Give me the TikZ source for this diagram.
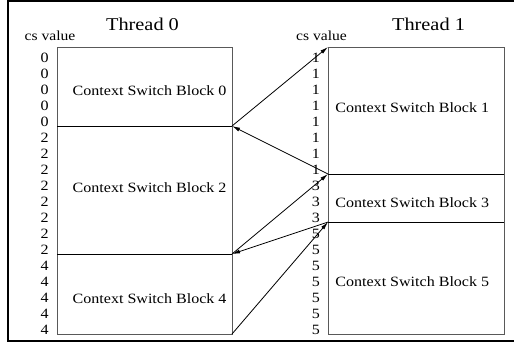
\documentclass[tikz,border=0pt]{standalone}
\usepackage{fontspec}
\setmainfont{Liberation Serif}[FakeStretch=1.13]
\usetikzlibrary{arrows.meta}
\begin{document}
\begin{tikzpicture}[x=1bp,y=-1bp,
  blk/.style={draw=black!65, line width=1bp, inner sep=0pt, outer sep=0pt, anchor=north west},
  divider/.style={draw=black, line width=0.9bp},
  lbl/.style={inner sep=0pt, anchor=base west, font=\fontsize{14.2bp}{16bp}\selectfont},
  dig/.style={inner sep=0pt, anchor=base, font=\fontsize{14.2bp}{16bp}\selectfont},
  ttl/.style={inner sep=0pt, anchor=base, font=\fontsize{18bp}{20bp}\selectfont},
  csl/.style={inner sep=0pt, anchor=base, font=\fontsize{13.8bp}{16bp}\selectfont},
  arr/.style={draw=black, line width=0.8bp, -{Latex[length=8bp,width=4bp]}},
  frame/.style={draw=black, line width=2bp}]
\useasboundingbox (0,0) rectangle (514,346);
\draw[frame] (514,1) -- (8,1) -- (8,341) -- (514,341);
% Thread 0 blocks
\node[blk, minimum width=175bp, minimum height=79bp] (b0) at (57,47) {};
\node[blk, minimum width=175bp, minimum height=128bp] (b2) at (57,126) {};
\node[blk, minimum width=175bp, minimum height=80bp] (b4) at (57,254) {};
% Thread 1 blocks
\node[blk, minimum width=176bp, minimum height=127bp] (b1) at (328,47) {};
\node[blk, minimum width=176bp, minimum height=48bp] (b3) at (328,174) {};
\node[blk, minimum width=176bp, minimum height=112bp] (b5) at (328,222) {};
% dividers
\draw[divider] (b0.south west) -- (b0.south east);
\draw[divider] (b2.south west) -- (b2.south east);
\draw[divider] (b1.south west) -- (b1.south east);
\draw[divider] (b3.south west) -- (b3.south east);
% labels
\node[lbl] (t0) at (72.5,95) {Context Switch Block 0};
\node[lbl] (t2) at (72.5,192) {Context Switch Block 2};
\node[lbl] (t4) at (72.5,303) {Context Switch Block 4};
\node[lbl] (t1) at (335.2,112.5) {Context Switch Block 1};
\node[lbl] (t3) at (335.2,207.5) {Context Switch Block 3};
\node[lbl] (t5) at (335.2,286.5) {Context Switch Block 5};
\node[ttl] (th0) at (142.5,30.7) {Thread 0};
\node[ttl] (th1) at (428.5,30.7) {Thread 1};
\node[csl] (cs0) at (50,40) {cs value};
\node[csl] (cs1) at (321.5,40) {cs value};
% cs values
\foreach \i in {1,...,5} \node[dig] (z\i) at (44.7,{47+15.8*\i}) {0};
\foreach \i in {1,...,8} \node[dig] (w\i) at (44.7,{126+16*\i}) {2};
\foreach \i in {1,...,5} \node[dig] (f\i) at (44.7,{254+16*\i}) {4};
\foreach \i in {1,...,8} \node[dig] (o\i) at (316,{47+15.875*\i}) {1};
\foreach \i in {1,...,3} \node[dig] (h\i) at (316,{174+16*\i}) {3};
\foreach \i in {1,...,7} \node[dig] (v\i) at (316,{222+16*\i}) {5};
% switches
\draw[arr] (b0.south east) -- (b1.north west);
\draw[arr] (b1.south west) -- (b0.south east);
\draw[arr] (b2.south east) -- (b3.north west);
\draw[arr] (b3.south west) -- (b2.south east);
\draw[arr] (b4.south east) -- (b5.north west);
\end{tikzpicture}
\end{document}
